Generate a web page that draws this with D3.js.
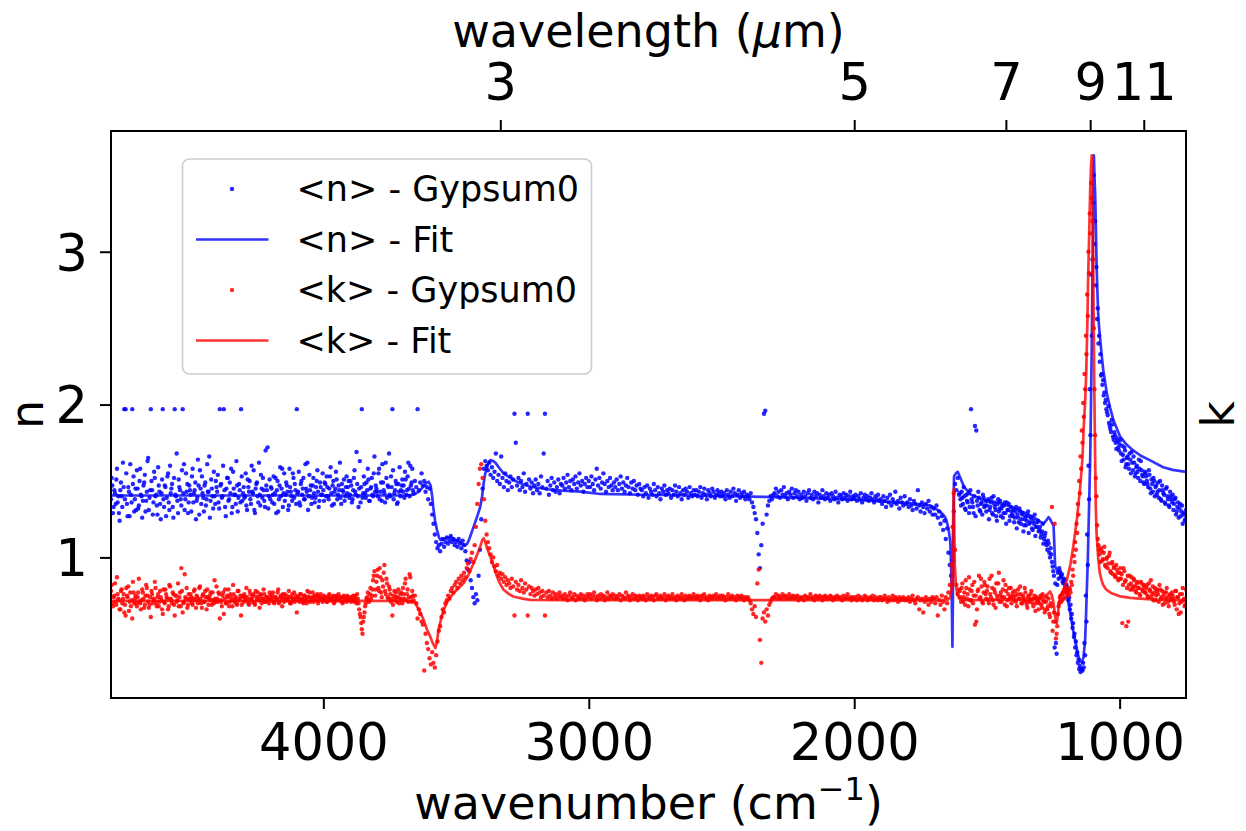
<!DOCTYPE html>
<html><head><meta charset="utf-8">
<script src="https://cdn.jsdelivr.net/npm/d3@7/dist/d3.min.js"></script>
<style>
body{margin:0;background:#fff}
svg{display:block}
text{font-family:"DejaVu Sans",sans-serif;fill:#000}
</style>
</head><body>
<svg id="c" width="1246" height="831"></svg>
<script>
// ---------------- data ----------------
// measured points (<n>, <k>) on a 5 cm^-1 grid from 4800 down to 750 cm^-1
const dataStartWn = 4800, dataEndWn = 750, dataStepWn = 5;

const nData = [
1.38,1.47,1.33,1.42,1.51,1.36,1.29,1.44,1.40,1.62,1.97,1.97,1.35,1.46,1.27,1.41,1.97,1.53,1.38,1.31,
1.45,1.34,1.58,1.40,1.37,1.49,1.30,1.43,1.65,1.39,1.97,1.44,1.36,1.52,1.41,1.28,1.47,1.35,1.42,1.97,
1.33,1.46,1.39,1.55,1.31,1.42,1.48,1.26,1.97,1.40,1.37,1.51,1.44,1.34,1.97,1.61,1.38,1.43,1.29,1.47,
1.41,1.53,1.36,1.44,1.25,1.39,1.47,1.57,1.35,1.42,1.30,1.49,1.38,1.43,1.66,1.37,1.45,1.32,1.40,1.50,
1.43,1.36,1.97,1.48,1.40,1.97,1.33,1.45,1.52,1.38,1.42,1.29,1.56,1.41,1.35,1.47,1.39,1.44,1.97,1.37,
1.46,1.40,1.34,1.51,1.43,1.38,1.60,1.42,1.31,1.45,1.49,1.36,1.41,1.54,1.39,1.44,1.33,1.47,1.72,1.40,
1.38,1.45,1.41,1.35,1.52,1.44,1.30,1.47,1.40,1.58,1.42,1.37,1.49,1.43,1.34,1.46,1.40,1.55,1.39,1.44,
1.97,1.43,1.36,1.48,1.41,1.52,1.38,1.45,1.62,1.40,1.44,1.35,1.47,1.42,1.39,1.50,1.43,1.37,1.46,1.41,
1.44,1.49,1.40,1.46,1.38,1.53,1.42,1.47,1.35,1.45,1.51,1.41,1.44,1.39,1.48,1.43,1.37,1.46,1.42,1.50,
1.41,1.47,1.38,1.52,1.43,1.69,1.40,1.45,1.36,1.97,1.42,1.48,1.39,1.44,1.51,1.37,1.46,1.41,1.55,1.43,
1.45,1.40,1.58,1.43,1.37,1.49,1.42,1.62,1.39,1.46,1.41,1.53,1.97,1.38,1.44,1.48,1.36,1.43,1.40,1.47,
1.43,1.39,1.51,1.44,1.62,1.40,1.47,1.58,1.42,1.50,1.46,1.97,1.44,1.49,1.55,1.47,1.50,1.43,1.46,1.38,
1.45,1.35,1.28,1.22,1.15,1.10,1.06,1.08,1.04,1.09,1.12,1.07,1.10,1.13,1.09,1.11,1.14,1.10,1.12,1.08,
1.10,1.07,1.12,1.09,1.06,1.11,1.08,1.04,0.98,0.92,0.97,0.85,0.80,0.74,0.70,0.76,0.72,0.88,1.05,1.25,
1.45,1.58,1.63,1.60,1.57,1.62,1.54,1.59,1.52,1.56,1.68,1.50,1.54,1.48,1.66,1.52,1.46,1.55,1.50,1.44,
1.49,1.53,1.46,1.51,1.94,1.75,1.47,1.52,1.44,1.50,1.46,1.55,1.43,1.48,1.94,1.51,1.45,1.49,1.42,1.47,
1.51,1.44,1.48,1.42,1.53,1.46,1.68,1.94,1.45,1.50,1.41,1.47,1.52,1.44,1.49,1.43,1.46,1.51,1.42,1.48,
1.47,1.52,1.45,1.49,1.54,1.46,1.50,1.44,1.51,1.48,1.53,1.45,1.49,1.55,1.47,1.50,1.43,1.48,1.52,1.46,
1.50,1.46,1.53,1.48,1.44,1.51,1.58,1.47,1.52,1.45,1.49,1.55,1.48,1.43,1.50,1.46,1.52,1.47,1.44,1.49,
1.46,1.51,1.44,1.48,1.53,1.45,1.49,1.43,1.47,1.52,1.46,1.42,1.49,1.45,1.50,1.44,1.47,1.41,1.48,1.45,
1.44,1.40,1.46,1.42,1.47,1.39,1.45,1.43,1.41,1.48,1.44,1.40,1.46,1.42,1.38,1.45,1.43,1.47,1.41,1.44,
1.42,1.45,1.39,1.44,1.41,1.47,1.43,1.40,1.46,1.42,1.38,1.44,1.41,1.45,1.43,1.39,1.46,1.42,1.40,1.44,
1.41,1.44,1.40,1.43,1.46,1.39,1.42,1.45,1.41,1.38,1.44,1.42,1.40,1.45,1.43,1.39,1.41,1.44,1.42,1.40,
1.43,1.40,1.42,1.38,1.44,1.41,1.39,1.43,1.40,1.45,1.42,1.37,1.41,1.44,1.39,1.42,1.40,1.43,1.38,1.41,
1.40,1.38,1.42,1.36,1.33,1.29,1.25,1.16,1.02,0.93,1.08,1.22,1.94,1.96,1.28,1.34,1.37,1.40,1.38,1.41,
1.42,1.45,1.40,1.43,1.39,1.44,1.41,1.46,1.40,1.42,1.38,1.43,1.41,1.45,1.39,1.42,1.44,1.40,1.43,1.38,
1.41,1.39,1.43,1.40,1.37,1.42,1.44,1.39,1.41,1.38,1.43,1.40,1.42,1.36,1.41,1.39,1.44,1.40,1.38,1.42,
1.39,1.41,1.37,1.42,1.40,1.38,1.43,1.39,1.36,1.41,1.40,1.38,1.42,1.39,1.41,1.37,1.40,1.43,1.38,1.40,
1.39,1.41,1.37,1.40,1.38,1.42,1.36,1.39,1.41,1.38,1.40,1.37,1.39,1.42,1.38,1.36,1.40,1.38,1.41,1.37,
1.38,1.35,1.40,1.37,1.33,1.39,1.36,1.41,1.34,1.38,1.36,1.43,1.35,1.37,1.32,1.39,1.36,1.34,1.40,1.35,
1.36,1.33,1.38,1.34,1.31,1.37,1.35,1.32,1.44,1.34,1.30,1.36,1.33,1.29,1.35,1.32,1.37,1.30,1.33,1.28,
1.32,1.28,1.34,1.26,1.30,1.22,1.27,1.18,1.24,1.12,1.19,1.03,0.95,0.88,0.98,1.30,1.48,1.44,1.52,1.41,
1.38,1.43,1.35,1.40,1.31,1.37,1.42,1.33,1.97,1.36,1.29,1.86,1.83,1.34,1.39,1.30,1.36,1.41,1.33,1.37,
1.34,1.38,1.31,1.36,1.29,1.40,1.33,1.27,1.35,1.30,1.37,1.32,1.26,1.34,1.29,1.36,1.31,1.24,1.33,1.28,
1.31,1.26,1.33,1.28,1.23,1.30,1.25,1.29,1.21,1.27,1.24,1.30,1.22,1.26,1.19,1.24,1.28,1.20,1.23,1.17,
1.20,1.15,1.22,1.12,1.16,1.08,1.11,1.03,1.06,0.97,0.91,0.41,0.44,0.82,0.86,0.91,0.88,0.84,0.86,0.80,
0.82,0.79,0.74,0.69,0.63,0.57,0.50,0.45,0.38,0.33,0.29,0.27,0.26,0.28,0.36,0.58,0.95,1.38,1.80,2.45,
3.32,3.05,2.78,2.56,2.40,2.28,2.19,2.13,2.06,2.01,1.97,1.93,1.88,1.84,1.90,1.79,1.82,1.75,1.78,1.72,
1.74,1.68,1.73,1.64,1.70,1.61,1.66,1.58,1.64,1.69,1.57,1.62,1.55,1.60,1.52,1.58,1.63,1.54,1.49,1.56,
1.53,1.48,1.57,1.45,1.51,1.43,1.50,1.46,1.41,1.49,1.44,1.38,1.47,1.42,1.36,1.45,1.40,1.34,1.43,1.38,
1.41,1.35,1.39,1.30,1.36,1.32,1.27,1.34,1.29,1.24,1.31
];

const kData = [
0.78,0.70,0.74,0.83,0.69,0.76,0.72,0.66,0.79,0.73,0.64,0.62,0.75,0.81,0.71,0.68,0.60,0.77,0.73,0.70,
0.74,0.86,0.70,0.72,0.77,0.67,0.75,0.80,0.71,0.69,0.61,0.76,0.73,0.84,0.70,0.74,0.68,0.78,0.72,0.63,
0.71,0.79,0.74,0.66,0.82,0.73,0.70,0.76,0.62,0.75,0.72,0.68,0.77,0.93,0.64,0.71,0.74,0.80,0.69,0.73,
0.76,0.70,0.73,0.79,0.67,0.74,0.72,0.81,0.70,0.75,0.71,0.78,0.66,0.74,0.73,0.77,0.69,0.72,0.85,0.71,
0.73,0.77,0.60,0.71,0.75,0.63,0.79,0.70,0.74,0.68,0.76,0.72,0.82,0.71,0.74,0.69,0.78,0.73,0.62,0.75,
0.71,0.74,0.80,0.72,0.69,0.76,0.73,0.75,0.70,0.78,0.72,0.74,0.67,0.76,0.73,0.79,0.71,0.74,0.72,0.70,
0.75,0.72,0.77,0.70,0.74,0.73,0.79,0.71,0.75,0.68,0.74,0.76,0.72,0.73,0.78,0.70,0.74,0.72,0.77,0.73,
0.64,0.74,0.71,0.76,0.73,0.70,0.75,0.72,0.78,0.74,0.71,0.73,0.77,0.74,0.72,0.75,0.70,0.74,0.76,0.73,
0.72,0.74,0.73,0.71,0.75,0.73,0.72,0.74,0.70,0.73,0.75,0.72,0.74,0.73,0.71,0.74,0.72,0.73,0.75,0.72,
0.73,0.71,0.74,0.72,0.75,0.70,0.73,0.66,0.61,0.53,0.58,0.64,0.70,0.74,0.72,0.76,0.73,0.79,0.88,0.75,
0.84,0.92,0.78,0.87,0.74,0.81,0.95,0.76,0.83,0.73,0.79,0.71,0.62,0.75,0.72,0.77,0.74,0.70,0.76,0.73,
0.80,0.73,0.86,0.76,0.71,0.89,0.74,0.78,0.72,0.75,0.70,0.60,0.66,0.63,0.58,0.56,0.26,0.50,0.44,0.40,
0.34,0.30,0.38,0.31,0.28,0.36,0.45,0.52,0.55,0.61,0.66,0.64,0.70,0.72,0.75,0.73,0.78,0.80,0.77,0.82,
0.84,0.80,0.86,0.83,0.88,0.85,0.90,0.87,0.93,0.96,0.91,0.99,1.03,0.97,1.08,1.20,1.35,1.48,1.58,1.61,
1.52,1.38,1.24,1.15,1.10,1.06,1.02,0.97,1.00,0.94,0.91,0.95,0.88,0.90,0.86,0.89,0.84,0.87,0.82,0.85,
0.83,0.80,0.86,0.81,0.62,0.84,0.79,0.82,0.78,0.85,0.80,0.77,0.83,0.79,0.62,0.81,0.76,0.80,0.78,0.75,
0.79,0.76,0.80,0.77,0.74,0.78,0.75,0.62,0.77,0.74,0.78,0.75,0.73,0.77,0.74,0.76,0.73,0.75,0.77,0.74,
0.75,0.73,0.76,0.74,0.72,0.75,0.77,0.73,0.74,0.76,0.72,0.75,0.73,0.74,0.76,0.73,0.75,0.72,0.74,0.76,
0.74,0.76,0.73,0.75,0.77,0.74,0.72,0.75,0.73,0.76,0.74,0.75,0.72,0.74,0.77,0.73,0.75,0.74,0.76,0.73,
0.75,0.73,0.74,0.76,0.72,0.75,0.74,0.73,0.77,0.74,0.75,0.72,0.74,0.76,0.73,0.75,0.74,0.72,0.75,0.74,
0.73,0.75,0.74,0.72,0.76,0.74,0.73,0.75,0.74,0.72,0.75,0.76,0.73,0.74,0.75,0.73,0.74,0.76,0.72,0.74,
0.75,0.73,0.74,0.76,0.73,0.74,0.72,0.75,0.74,0.73,0.76,0.74,0.72,0.75,0.73,0.74,0.75,0.73,0.74,0.76,
0.74,0.73,0.75,0.74,0.72,0.75,0.74,0.76,0.73,0.74,0.72,0.75,0.74,0.73,0.75,0.74,0.76,0.73,0.74,0.75,
0.73,0.75,0.74,0.72,0.74,0.76,0.73,0.74,0.75,0.73,0.74,0.72,0.75,0.74,0.73,0.75,0.74,0.72,0.74,0.73,
0.74,0.72,0.70,0.66,0.63,0.68,0.61,0.83,0.92,0.46,0.31,0.60,0.64,0.58,0.66,0.62,0.69,0.71,0.73,0.74,
0.74,0.76,0.73,0.75,0.74,0.73,0.76,0.74,0.75,0.73,0.74,0.76,0.73,0.74,0.75,0.73,0.74,0.75,0.72,0.74,
0.73,0.74,0.72,0.75,0.74,0.73,0.74,0.76,0.73,0.74,0.72,0.75,0.74,0.73,0.75,0.74,0.72,0.74,0.75,0.73,
0.74,0.73,0.75,0.74,0.72,0.74,0.73,0.75,0.74,0.73,0.74,0.72,0.75,0.73,0.74,0.76,0.73,0.74,0.72,0.74,
0.73,0.74,0.72,0.75,0.73,0.74,0.72,0.73,0.75,0.74,0.72,0.73,0.74,0.73,0.75,0.72,0.74,0.73,0.72,0.74,
0.74,0.72,0.73,0.75,0.73,0.71,0.74,0.72,0.73,0.75,0.72,0.74,0.73,0.71,0.74,0.72,0.73,0.74,0.72,0.73,
0.72,0.74,0.71,0.73,0.75,0.72,0.70,0.73,0.74,0.66,0.72,0.73,0.64,0.71,0.74,0.72,0.69,0.73,0.71,0.74,
0.73,0.70,0.74,0.62,0.72,0.69,0.75,0.71,0.66,0.74,0.70,0.77,0.82,0.95,1.20,1.42,1.05,0.82,0.76,0.79,
0.74,0.80,0.71,0.77,0.85,0.73,0.68,0.79,0.72,0.82,0.75,0.56,0.58,0.78,0.88,0.74,0.81,0.70,0.84,0.76,
0.78,0.72,0.86,0.74,0.80,0.69,0.77,0.83,0.73,0.90,0.75,0.71,0.79,0.74,0.82,0.68,0.76,0.73,0.80,0.75,
0.74,0.78,0.71,0.76,0.73,0.81,0.70,0.75,0.72,0.77,0.69,0.74,0.71,0.76,0.73,0.68,0.75,0.70,0.72,0.66,
0.73,0.69,0.76,0.71,0.66,0.74,0.68,0.63,0.70,1.33,0.58,1.22,0.47,0.55,0.68,0.74,0.71,0.76,0.73,0.78,
0.78,0.76,0.80,0.77,0.82,0.88,0.97,1.05,1.16,1.28,1.42,1.58,1.75,1.92,2.10,2.33,2.58,2.86,3.12,3.35,
2.95,2.10,1.52,1.21,1.08,1.02,1.06,0.98,1.03,0.95,0.99,0.93,1.01,0.91,0.96,0.89,0.94,0.87,0.92,0.85,
0.90,0.86,0.57,0.93,0.84,0.55,0.88,0.82,0.79,0.87,0.81,0.85,0.78,0.83,0.80,0.76,0.84,0.79,0.82,0.77,
0.80,0.75,0.83,0.78,0.74,0.81,0.77,0.72,0.79,0.76,0.82,0.73,0.78,0.75,0.70,0.77,0.74,0.68,0.76,0.73,
0.75,0.71,0.78,0.66,0.74,0.70,0.64,0.76,0.72,0.68,0.79
];

// additional measured points between grid points, 4797.5 down to 3662.5 cm^-1
const extraLeftStartWn = 4797.5;
const nExtraLeft = [
1.52,1.29,1.44,1.35,1.58,1.40,1.24,1.49,1.33,1.46,1.38,1.55,1.27,1.43,1.61,1.36,1.48,1.30,1.45,1.57,
1.32,1.50,1.41,1.26,1.47,1.54,1.37,1.63,1.31,1.44,1.50,1.28,1.56,1.40,1.34,1.59,1.43,1.25,1.51,1.38,
1.47,1.27,1.53,1.36,1.60,1.45,1.33,1.52,1.41,1.68,1.29,1.46,1.38,1.57,1.42,1.31,1.55,1.48,1.36,1.44,
1.30,1.58,1.42,1.49,1.37,1.64,1.28,1.45,1.53,1.39,1.47,1.34,1.61,1.43,1.26,1.51,1.40,1.56,1.35,1.46,
1.54,1.32,1.47,1.39,1.60,1.44,1.27,1.52,1.37,1.49,1.58,1.33,1.45,1.41,1.63,1.30,1.48,1.36,1.53,1.42,
1.39,1.55,1.31,1.46,1.50,1.35,1.43,1.57,1.29,1.48,1.40,1.62,1.34,1.45,1.52,1.37,1.70,1.44,1.32,1.51,
1.46,1.36,1.53,1.42,1.29,1.50,1.38,1.59,1.45,1.33,1.55,1.41,1.47,1.31,1.58,1.43,1.37,1.52,1.48,1.35,
1.42,1.56,1.34,1.50,1.45,1.38,1.61,1.43,1.31,1.54,1.47,1.39,1.52,1.36,1.46,1.57,1.33,1.49,1.41,1.55,
1.37,1.48,1.53,1.40,1.45,1.59,1.34,1.50,1.43,1.56,1.38,1.47,1.62,1.35,1.44,1.51,1.40,1.53,1.46,1.39,
1.50,1.36,1.44,1.57,1.41,1.48,1.33,1.63,1.46,1.39,1.53,1.42,1.49,1.58,1.37,1.45,1.52,1.40,1.66,1.47,
1.43,1.55,1.38,1.49,1.61,1.44,1.36,1.52,1.47,1.68,1.40,1.46,1.57,1.42,1.50,1.35,1.48,1.59,1.44,1.51,
1.47,1.56,1.41,1.53,1.45,1.60,1.49,1.44
];
const kExtraLeft = [
0.82,0.68,0.75,0.71,0.87,0.73,0.66,0.78,0.70,0.76,0.69,0.80,0.74,0.65,0.77,0.72,0.84,0.70,0.75,0.68,
0.77,0.71,0.66,0.79,0.73,0.69,0.82,0.75,0.67,0.74,0.78,0.70,0.72,0.80,0.68,0.76,0.71,0.74,0.66,0.79,
0.70,0.76,0.73,0.68,0.81,0.72,0.77,0.69,0.75,0.71,0.83,0.74,0.68,0.78,0.70,0.89,0.73,0.67,0.76,0.72,
0.74,0.69,0.78,0.72,0.75,0.70,0.80,0.73,0.67,0.76,0.71,0.74,0.79,0.69,0.75,0.72,0.77,0.70,0.73,0.81,
0.71,0.76,0.72,0.68,0.77,0.73,0.70,0.75,0.79,0.71,0.74,0.68,0.76,0.73,0.70,0.78,0.72,0.75,0.69,0.74,
0.76,0.72,0.74,0.70,0.78,0.73,0.71,0.76,0.69,0.74,0.77,0.72,0.75,0.70,0.73,0.76,0.71,0.74,0.72,0.77,
0.73,0.75,0.71,0.74,0.72,0.77,0.70,0.74,0.73,0.76,0.71,0.73,0.75,0.72,0.74,0.70,0.76,0.73,0.71,0.75,
0.74,0.72,0.76,0.73,0.71,0.75,0.73,0.70,0.74,0.77,0.72,0.74,0.71,0.75,0.73,0.76,0.72,0.74,0.73,0.71,
0.75,0.73,0.71,0.74,0.76,0.72,0.73,0.75,0.71,0.74,0.73,0.76,0.72,0.74,0.70,0.75,0.73,0.71,0.74,0.72,
0.74,0.72,0.75,0.71,0.73,0.76,0.70,0.63,0.57,0.50,0.61,0.68,0.73,0.77,0.71,0.80,0.75,0.85,0.91,0.79,
0.88,0.80,0.93,0.77,0.85,0.90,0.78,0.86,0.74,0.81,0.76,0.73,0.69,0.78,0.74,0.71,0.79,0.73,0.77,0.70,
0.76,0.83,0.72,0.79,0.74,0.87,0.71,0.75
];

// additional measured points between grid points, 1602.5 down to 752.5 cm^-1
const extraRightStartWn = 1602.5;
const nExtraRight = [
1.42,1.34,1.39,1.46,1.32,1.41,1.36,1.29,1.44,1.38,1.33,1.40,1.27,1.37,1.43,1.31,1.35,1.28,1.39,1.34,
1.30,1.37,1.25,1.33,1.39,1.28,1.35,1.31,1.24,1.38,1.32,1.27,1.34,1.29,1.36,1.22,1.31,1.35,1.27,1.30,
1.27,1.23,1.30,1.19,1.26,1.32,1.22,1.28,1.17,1.25,1.21,1.27,1.16,1.23,1.26,1.18,1.22,1.14,1.20,1.24,
1.18,1.13,1.17,1.09,1.14,1.10,1.05,1.09,1.00,1.02,0.94,0.88,0.83,0.37,0.90,0.93,0.87,0.89,0.83,0.85,
0.81,0.77,0.72,0.66,0.60,0.54,0.48,0.41,0.36,0.31,0.27,0.25,0.27,0.31,0.44,0.75,1.15,1.60,2.10,2.85,
2.95,3.50,3.20,2.90,2.63,2.45,2.33,2.20,2.16,2.08,2.03,1.95,1.99,1.86,1.82,1.87,1.77,1.80,1.71,1.76,
1.70,1.77,1.63,1.67,1.72,1.59,1.65,1.61,1.68,1.55,1.62,1.66,1.53,1.59,1.56,1.64,1.50,1.57,1.53,1.48,
1.55,1.50,1.46,1.54,1.42,1.48,1.52,1.40,1.47,1.43,1.39,1.50,1.37,1.44,1.41,1.35,1.46,1.38,1.33,1.40,
1.36,1.31,1.38,1.28,1.33,1.26,1.35,1.30,1.22,1.28,1.25
];
const kExtraRight = [
0.78,0.71,0.83,0.74,0.69,0.80,0.76,0.87,0.72,0.78,0.70,0.84,0.75,0.66,0.79,0.73,0.86,0.71,0.77,0.82,
0.73,0.81,0.70,0.76,0.88,0.72,0.79,0.67,0.75,0.83,0.71,0.77,0.74,0.85,0.69,0.78,0.72,0.80,0.74,0.70,
0.77,0.72,0.75,0.68,0.79,0.73,0.76,0.70,0.74,0.80,0.71,0.67,0.75,0.72,0.78,0.70,0.73,0.65,0.74,0.71,
0.70,0.75,0.67,0.72,0.64,0.71,0.66,0.73,0.61,0.68,0.52,0.64,0.58,0.50,0.63,0.70,0.75,0.72,0.77,0.74,
0.80,0.77,0.75,0.79,0.84,0.92,1.01,1.10,1.22,1.35,1.50,1.66,1.83,2.01,2.20,2.45,2.72,3.00,3.25,3.45,
3.20,2.50,1.80,1.40,1.12,1.05,0.97,1.04,0.99,1.07,0.94,1.00,0.96,1.03,0.90,0.97,0.93,0.88,0.95,0.90,
0.86,0.93,0.89,0.82,0.91,0.85,0.80,0.58,0.88,0.83,0.79,0.86,0.81,0.77,0.84,0.80,0.75,0.83,0.78,0.81,
0.77,0.82,0.74,0.79,0.85,0.76,0.72,0.80,0.75,0.78,0.71,0.79,0.74,0.69,0.77,0.73,0.80,0.71,0.75,0.72,
0.77,0.73,0.69,0.78,0.74,0.63,0.76,0.71,0.80,0.73,0.69
];

// fitted <n>
const nFitWn = [4800,3700,3660,3640,3620,3610,3603,3596,3590,3586,3579,3572,3565,3559,3545,3530,3522,3510,3495,3484,3472,3465,3458,3450,3434,3420,3409,3402,3396,3390,3383,3376,3371,3360,3352,3335,3321,3300,3284,3250,3220,3157,3100,3032,2957,2800,2600,2335,2200,2000,1872,1800,1714,1676,1660,1653,1645,1638,1635,1633,1631,1630,1628,1626,1624,1617,1610,1600,1586,1559,1520,1458,1405,1330,1287,1275,1268,1262,1255,1249,1246,1243,1235,1224,1215,1205,1195,1186,1177,1168,1160,1155,1148,1142,1136,1130,1127,1124,1120,1117,1114,1111,1108,1105,1102,1100,1098,1097,1095,1092,1089,1087,1084,1081,1078,1074,1068,1062,1055,1048,1036,1024,1010,998,975,949,920,885,836,800,750];
const nFit   = [1.405,1.405,1.41,1.43,1.47,1.49,1.495,1.47,1.40,1.33,1.24,1.18,1.135,1.115,1.12,1.13,1.13,1.12,1.11,1.10,1.085,1.08,1.09,1.12,1.20,1.27,1.33,1.40,1.485,1.55,1.593,1.625,1.637,1.63,1.62,1.58,1.55,1.525,1.507,1.48,1.463,1.446,1.437,1.43,1.415,1.41,1.405,1.396,1.39,1.378,1.363,1.355,1.34,1.30,1.27,1.245,1.19,1.10,0.95,0.80,0.55,0.415,0.80,1.20,1.53,1.55,1.56,1.52,1.46,1.41,1.38,1.36,1.33,1.27,1.22,1.245,1.263,1.25,1.225,1.21,1.08,0.94,0.915,0.897,0.86,0.81,0.72,0.635,0.54,0.46,0.39,0.35,0.32,0.31,0.35,0.46,0.60,0.77,0.98,1.20,1.42,1.64,2.0,2.4,2.9,3.3,3.55,3.63,3.50,3.36,3.10,2.92,2.75,2.60,2.52,2.44,2.33,2.23,2.15,2.07,1.98,1.90,1.84,1.79,1.74,1.70,1.665,1.635,1.59,1.573,1.56];

// fitted <k>
const kFitWn = [4800,3670,3655,3647,3635,3622,3610,3597,3588,3578,3572,3566,3556,3547,3530,3509,3490,3472,3455,3434,3420,3409,3402,3396,3390,3381,3371,3358,3346,3335,3321,3300,3284,3250,3220,3100,1660,1645,1638,1633,1630,1627,1625,1623,1621,1617,1612,1604,1580,1330,1287,1268,1262,1255,1249,1243,1237,1232,1227,1220,1212,1199,1186,1174,1161,1149,1140,1136,1130,1126,1122,1119,1115,1111,1108,1105,1102,1100,1098,1096,1094,1092,1090,1087,1081,1075,1068,1062,1051,1030,998,960,923,850,750];
const kFit   = [0.715,0.715,0.705,0.68,0.64,0.59,0.53,0.48,0.44,0.406,0.45,0.526,0.60,0.657,0.72,0.766,0.80,0.83,0.88,0.962,1.02,1.07,1.11,1.125,1.10,1.05,1.005,0.94,0.875,0.83,0.788,0.76,0.744,0.73,0.722,0.72,0.72,0.725,0.74,0.80,1.00,1.25,1.45,1.20,0.95,0.82,0.76,0.73,0.72,0.725,0.74,0.765,0.777,0.75,0.70,0.613,0.57,0.64,0.72,0.76,0.79,0.85,0.95,1.08,1.25,1.45,1.65,1.83,2.02,2.2,2.5,2.8,3.1,3.4,3.55,3.63,3.35,3.0,2.6,2.2,1.9,1.6,1.35,1.16,1.0,0.9,0.85,0.82,0.79,0.765,0.745,0.735,0.73,0.722,0.72];

// axes ticks
const xTicks = [4000,3000,2000,1000];
const yTicks = [1,2,3];
const wavelengthTicks = [3,5,7,9,11];
const legendLabels = ["<n> - Gypsum0","<n> - Fit","<k> - Gypsum0","<k> - Fit"];

// ---------------- drawing ----------------
const svg = d3.select("#c");
const X0 = 111, X1 = 1186, Y0 = 131, Y1 = 698;
const x = d3.scaleLinear().domain([4800, 750]).range([X0, X1]);
const y = d3.scaleLinear().domain([0.08, 3.79]).range([Y1, Y0]);
const blue = "#0000ff", red = "#ff0000";
const tickFs = 51, labelFs = 46, legendFs = 35;
const dotR = 2.2;

svg.append("defs").append("clipPath").attr("id", "clip")
  .append("rect").attr("x", X0).attr("y", Y0).attr("width", X1 - X0).attr("height", Y1 - Y0);
const plot = svg.append("g").attr("clip-path", "url(#clip)");

function drawDots(vals, startWn, color) {
  plot.append("g").selectAll("circle").data(vals).join("circle")
    .attr("cx", (d, i) => x(startWn - i * dataStepWn))
    .attr("cy", d => y(d))
    .attr("r", dotR)
    .attr("fill", color)
    .attr("fill-opacity", 0.85);
}
function drawFit(wn, vals, color) {
  plot.append("path").datum(vals)
    .attr("d", d3.line().x((d, i) => x(wn[i])).y(d => y(d)))
    .attr("fill", "none")
    .attr("stroke", color)
    .attr("stroke-opacity", 0.8)
    .attr("stroke-width", 2.7)
    .attr("stroke-linejoin", "round");
}
drawDots(nData, dataStartWn, blue);
drawDots(nExtraLeft, extraLeftStartWn, blue);
drawDots(nExtraRight, extraRightStartWn, blue);
drawFit(nFitWn, nFit, blue);
drawDots(kData, dataStartWn, red);
drawDots(kExtraLeft, extraLeftStartWn, red);
drawDots(kExtraRight, extraRightStartWn, red);
drawFit(kFitWn, kFit, red);

function styleAxis(g) {
  g.select(".domain").remove();
  g.selectAll(".tick line").attr("stroke", "#000").attr("stroke-width", 2);
  g.selectAll(".tick text").attr("font-size", tickFs).attr("fill", "#000")
    .style("font-family", "'DejaVu Sans', sans-serif");
}

// bottom axis
svg.append("g").attr("transform", `translate(0,${Y1})`)
  .call(d3.axisBottom(x).tickValues(xTicks).tickFormat(d3.format("d")).tickSize(11).tickPadding(15))
  .call(styleAxis);

// top axis (wavelength)
svg.append("g").attr("transform", `translate(0,${Y0})`)
  .call(d3.axisTop(x).tickValues(wavelengthTicks.map(l => 1e4 / l))
    .tickFormat((d, i) => String(wavelengthTicks[i])).tickSize(11).tickPadding(20))
  .call(styleAxis);

// left axis
svg.append("g").attr("transform", `translate(${X0},0)`)
  .call(d3.axisLeft(y).tickValues(yTicks).tickFormat(d3.format("d")).tickSize(11).tickPadding(12))
  .call(styleAxis)
  .call(g => g.selectAll(".tick text").attr("dy", "0.36em"));

// frame
svg.append("rect").attr("x", X0).attr("y", Y0).attr("width", X1 - X0).attr("height", Y1 - Y0)
  .attr("fill", "none").attr("stroke", "#000").attr("stroke-width", 2);

// axis labels
const xl = svg.append("text").attr("x", (X0 + X1) / 2).attr("y", 819)
  .attr("text-anchor", "middle").attr("font-size", labelFs);
xl.append("tspan").text("wavenumber (cm");
xl.append("tspan").attr("font-size", 32).attr("dy", -19).text("\u22121");
xl.append("tspan").attr("dy", 19).text(")");

const tl = svg.append("text").attr("x", (X0 + X1) / 2).attr("y", 47)
  .attr("text-anchor", "middle").attr("font-size", labelFs);
tl.append("tspan").text("wavelength (");
tl.append("tspan").attr("font-style", "italic").text("\u03bc");
tl.append("tspan").text("m)");

svg.append("text").attr("transform", `translate(43,${(Y0 + Y1) / 2}) rotate(-90)`)
  .attr("text-anchor", "middle").attr("font-size", labelFs).text("n");
svg.append("text").attr("transform", `translate(1234,${(Y0 + Y1) / 2}) rotate(-90)`)
  .attr("text-anchor", "middle").attr("font-size", labelFs).text("k");

// legend
const lg = svg.append("g");
lg.append("rect").attr("x", 182.5).attr("y", 159).attr("width", 409).attr("height", 215).attr("rx", 7)
  .attr("fill", "#fff").attr("fill-opacity", 0.8).attr("stroke", "#cccccc").attr("stroke-width", 1.6);
const legendKinds = ["dot", "line", "dot", "line"];
const legendColors = [blue, blue, red, red];
legendLabels.forEach((lab, i) => {
  const cy = 189 + i * 50.5;
  if (legendKinds[i] === "dot") {
    lg.append("circle").attr("cx", 232).attr("cy", cy).attr("r", dotR)
      .attr("fill", legendColors[i]).attr("fill-opacity", 0.85);
  } else {
    lg.append("line").attr("x1", 196).attr("x2", 268.5).attr("y1", cy).attr("y2", cy)
      .attr("stroke", legendColors[i]).attr("stroke-opacity", 0.8).attr("stroke-width", 2.7);
  }
  lg.append("text").attr("x", 296.5).attr("y", cy).attr("dy", "0.35em")
    .attr("font-size", legendFs).text(lab);
});
</script>
</body></html>
